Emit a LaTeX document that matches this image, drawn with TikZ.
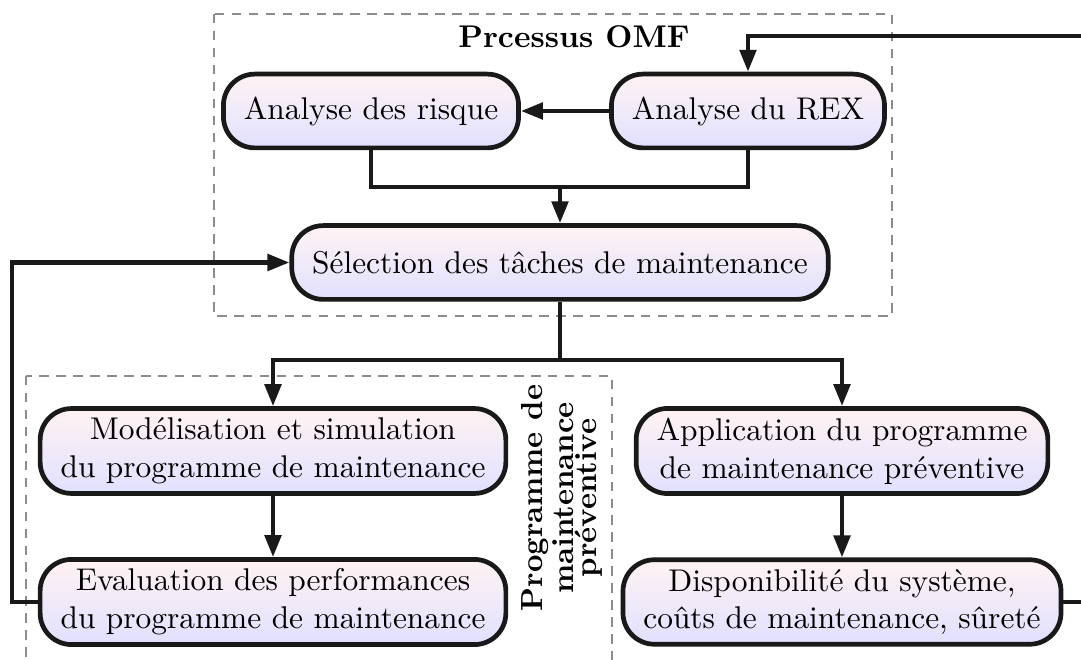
\documentclass[tikz,border=0pt]{standalone}
\usetikzlibrary{arrows.meta}
\tikzset{
  box/.style={draw=black!90, line width=1.5pt, rounded corners=10pt,
    top color=red!5, bottom color=blue!12, align=center,
    inner xsep=6.5pt, inner ysep=3pt, minimum height=23.5pt},
  conn/.style={draw=black!90, line width=1.4pt},
  arr/.style={conn, -{Triangle[length=7pt,width=5.2pt]}},
  group/.style={draw=black!45, line width=0.6pt, dash pattern=on 3pt off 2.4pt},
}
\begin{document}
\begin{tikzpicture}[x=0.3185pt, y=-0.3185pt]
  \clip (0,0) rectangle (1081,660);

  % group frames
  \draw[group] (214,14) rectangle (892,316);
  \draw[group] (26,376) rectangle (612,700);
  \node[font=\bfseries] (omf) at (574,37) {Prcessus OMF};
  \node[rotate=90, align=center, font=\bfseries\fontsize{9.7pt}{7.4pt}\selectfont]
    (pmp) at (562,498) {Programme de\\maintenance\\préventive};

  % steps
  \node[box] (risque) at (371,111) {Analyse des risque};
  \node[box] (rex)    at (748,111) {Analyse du REX};
  \node[box] (sel)    at (560,262.5) {Sélection des tâches de maintenance};
  \node[box] (mod)    at (273,451) {Modélisation et simulation\\du programme de maintenance};
  \node[box] (eval)   at (273,602) {Evaluation des performances\\du programme de maintenance};
  \node[box] (app)    at (842,451) {Application du programme\\de maintenance préventive};
  \node[box] (disp)   at (842,602) {Disponibilité du système,\\coûts de maintenance, sûreté};

  % routing points
  \coordinate (j1) at (560,187);
  \coordinate (j2) at (560,360);
  \coordinate (loopL) at (12,262.5);
  \coordinate (loopR) at (1095,36);

  % connectors
  \draw[arr] (rex.west) -- (risque.east);
  \draw[conn] (risque.south) |- (j1) -| (rex.south);
  \draw[arr] (j1) -- (sel.north);
  \draw[conn] (sel.south) -- (j2);
  \draw[arr] (j2) -| (mod.north);
  \draw[arr] (j2) -| (app.north);
  \draw[arr] (mod) -- (eval);
  \draw[arr] (app) -- (disp);
  \draw[arr] (eval.west) -| (loopL) -- (sel.west);
  \draw[arr] (disp.east) -| (loopR) -| (rex.north);
\end{tikzpicture}
\end{document}
